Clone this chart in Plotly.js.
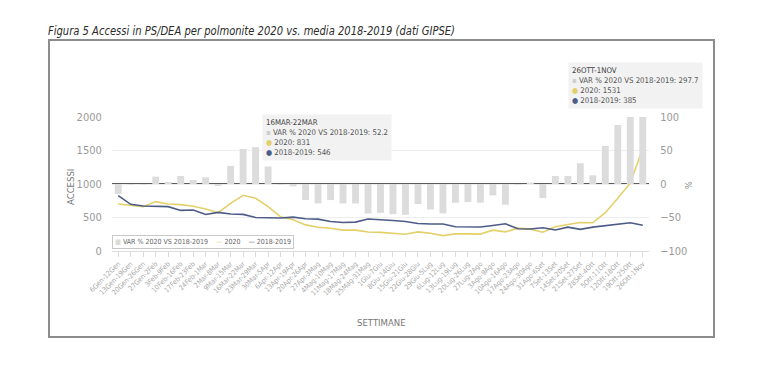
<!DOCTYPE html>
<html>
<head>
<meta charset="utf-8">
<script src="https://cdn.plot.ly/plotly-3.0.1.min.js"></script>
<style>
  html, body { margin: 0; padding: 0; background: #fff; width: 767px; height: 374px; overflow: hidden; }
  #caption {
    position: absolute; left: 48px; top: 23px; transform-origin: 0 50%;
    font-family: 'Liberation Sans Narrow', 'DejaVu Sans Condensed', 'Liberation Sans', sans-serif;
    font-style: italic; font-size: 12.5px; color: #2b2b2b; white-space: nowrap;
  }
  #frame { position: absolute; left: 48px; top: 39px; width: 663px; height: 295px; border: 2px solid #8c8c8c; }
  #chart { position: absolute; left: 0; top: 0; width: 767px; height: 374px; }
</style>
</head>
<body>
<div id="caption">Figura 5 Accessi in PS/DEA per polmonite 2020 vs. media 2018-2019 (dati GIPSE)</div>
<div id="frame"></div>
<div id="chart"></div>
<script>
// Weekly windows (2020)
const weeks = [
  '6Gen-12Gen', '13Gen-19Gen', '20Gen-26Gen', '27Gen-2Feb', '3Feb-9Feb', '10Feb-16Feb',
  '17Feb-23Feb', '24Feb-1Mar', '2Mar-8Mar', '9Mar-15Mar', '16Mar-22Mar', '23Mar-29Mar',
  '30Mar-5Apr', '6Apr-12Apr', '13Apr-19Apr', '20Apr-26Apr', '27Apr-3Mag', '4Mag-10Mag',
  '11Mag-17Mag', '18Mag-24Mag', '25Mag-31Mag', '1Giu-7Giu', '8Giu-14Giu', '15Giu-21Giu',
  '22Giu-28Giu', '29Giu-5Lug', '6Lug-12Lug', '13Lug-19Lug', '20Lug-26Lug', '27Lug-2Ago',
  '3Ago-9Ago', '10Ago-16Ago', '17Ago-23Ago', '24Ago-30Ago', '31Ago-6Set', '7Set-13Set',
  '14Set-20Set', '21Set-27Set', '28Set-4Ott', '5Ott-11Ott', '12Ott-18Ott', '19Ott-25Ott',
  '26Ott-1Nov'
];

// Percentage change 2020 vs 2018-2019 average
const var2020 = [
  -15, -1, -1, 11, 3, 12, 6, 10, -3, 27, 52.2, 55,
  26, -1, -3.5, -24, -29, -24, -29, -29, -44, -43, -45, -46,
  -30, -38, -44, -28, -27, -28, -17, -31, -1, 2, -21, 12,
  12, 31, 13, 57, 88, 140, 297.7
];

// Weekly accesses, 2020
const acc2020 = [
  702, 687, 662, 737, 702, 692, 667, 627, 571, 712, 831, 787,
  662, 511, 468, 390, 355, 340, 312, 312, 284, 278, 266, 250,
  285, 266, 230, 256, 256, 252, 311, 286, 341, 326, 281, 361,
  396, 426, 421, 571, 787, 1012, 1531
];

// Weekly accesses, 2018-2019 average
const acc1819 = [
  827, 697, 672, 662, 662, 606, 612, 546, 576, 552, 546, 500,
  496, 492, 505, 481, 476, 440, 425, 431, 478, 471, 456, 441,
  410, 404, 404, 363, 358, 358, 381, 406, 333, 328, 346, 313,
  356, 323, 356, 376, 401, 421, 385
];

const accTicks = [0, 500, 1000, 1500, 2000];
const pctTicks = [-100, -50, 0, 50, 100];

const COL_BAR = '#dcdcdc';
const COL_2020 = '#e3d06a';
const COL_1819 = '#4d5b87';
const FONT = "'Liberation Sans Narrow', 'DejaVu Sans Condensed', 'Liberation Sans', sans-serif";

// squeeze the caption to its column width
(function () {
  const cap = document.getElementById('caption');
  const w = cap.getBoundingClientRect().width;
  cap.style.transform = 'scaleX(' + (407 / w) + ')';
})();

// page-pixel helpers for the plot box
const W = 767, H = 374;
const M = { l: 112, r: 118, t: 117, b: 123 };
const px = x => (x - M.l) / (W - M.l - M.r);
const py = y => (H - M.b - y) / (H - M.t - M.b);

function tip(i, left, top) {
  const txt = '<span style="color:#444">' + weeks[i].toUpperCase() + '</span>' +
    '<br><span style="color:#cfcfcf">\u25AA</span> VAR % 2020 VS 2018-2019: ' + var2020[i] +
    '<br><span style="color:' + COL_2020 + '">\u25CF</span> 2020: ' + acc2020[i] +
    '<br><span style="color:' + COL_1819 + '">\u25CF</span> 2018-2019: ' + acc1819[i];
  return {
    xref: 'paper', yref: 'paper', x: px(left), y: py(top), xanchor: 'left', yanchor: 'top',
    text: txt, showarrow: false, align: 'left', bgcolor: 'rgba(241,241,241,0.92)',
    borderpad: 3, font: { family: FONT, size: 7.8, color: '#555' }
  };
}

const traces = [
  {
    type: 'bar', name: 'VAR % 2020 VS 2018-2019', x: weeks, y: var2020, yaxis: 'y2',
    marker: { color: COL_BAR }
  },
  {
    type: 'scatter', mode: 'lines', name: '2020', x: weeks, y: acc2020,
    line: { color: COL_2020, width: 1.6 }
  },
  {
    type: 'scatter', mode: 'lines', name: '2018-2019', x: weeks, y: acc1819,
    line: { color: COL_1819, width: 1.6 }
  }
];

const sp = '\u00a0\u00a0\u00a0\u00a0';
const legendText =
  '<span style="color:' + COL_BAR + '">\u25A0</span> VAR % 2020 VS 2018-2019' + sp +
  '<span style="color:' + COL_2020 + '">\u2014</span> 2020' + sp +
  '<span style="color:' + COL_1819 + '">\u2014</span> 2018-2019';

const layout = {
  width: W, height: H,
  margin: M,
  paper_bgcolor: 'rgba(0,0,0,0)', plot_bgcolor: 'rgba(0,0,0,0)',
  showlegend: false,
  bargap: 0.45,
  font: { family: FONT, color: '#999' },
  xaxis: {
    type: 'category', categoryorder: 'array', categoryarray: weeks,
    range: [-0.5, weeks.length - 0.5],
    tickangle: -45, tickfont: { size: 7, color: '#a8a8a8' },
    ticks: 'outside', ticklen: 5, tickcolor: '#dcdcdc',
    showline: true, linecolor: '#dcdcdc', showgrid: false, zeroline: false
  },
  yaxis: {
    range: [0, 2000], tickvals: accTicks,
    tickfont: { size: 11, color: '#9a9a9a' },
    ticks: 'outside', ticklen: 7, tickcolor: 'rgba(0,0,0,0)',
    gridcolor: '#eeeeee', zeroline: false
  },
  yaxis2: {
    overlaying: 'y', side: 'right', range: [-100, 100], tickvals: pctTicks,
    tickfont: { size: 11, color: '#9a9a9a' },
    ticks: 'outside', ticklen: 8, tickcolor: 'rgba(0,0,0,0)',
    showgrid: false, zeroline: false
  },
  shapes: [
    { type: 'line', xref: 'paper', x0: 0, x1: 1, yref: 'y', y0: 1000, y1: 1000,
      line: { color: '#5c5c5c', width: 2 }, layer: 'below' }
  ],
  annotations: [
    { xref: 'paper', yref: 'paper', x: px(70), y: py(187), xanchor: 'center', yanchor: 'middle',
      text: 'ACCESSI', textangle: -90,
      showarrow: false, font: { family: FONT, size: 9.5, color: '#777' } },
    { xref: 'paper', yref: 'paper', x: px(381), y: py(322), xanchor: 'center', yanchor: 'middle',
      text: 'SETTIMANE',
      showarrow: false, font: { family: FONT, size: 9.5, color: '#777' } },
    { xref: 'paper', yref: 'paper', x: px(689), y: py(185), xanchor: 'center', yanchor: 'middle',
      text: '%', textangle: -90,
      showarrow: false, font: { family: FONT, size: 9, color: '#888' } },
    { xref: 'paper', yref: 'paper', x: px(112), y: py(248.5), xanchor: 'left', yanchor: 'bottom',
      text: legendText, showarrow: false, bgcolor: '#ffffff', bordercolor: '#c8c8c8',
      borderwidth: 1, borderpad: 2, font: { family: FONT, size: 7, color: '#666' } },
    tip(10, 262, 114),
    tip(42, 568, 62)
  ]
};

Plotly.newPlot('chart', traces, layout, { displayModeBar: false, staticPlot: true });
</script>
</body>
</html>
